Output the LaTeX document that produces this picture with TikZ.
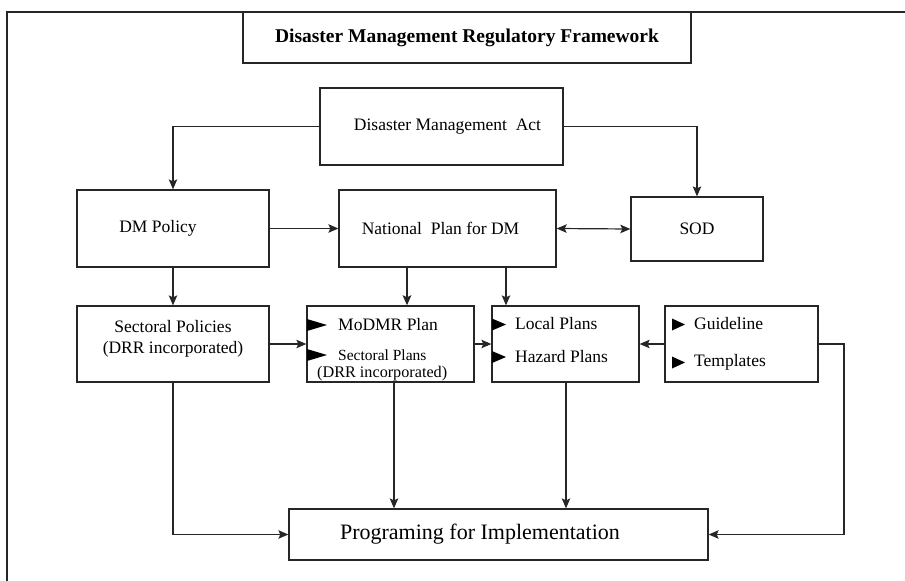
\documentclass[tikz,border=0pt]{standalone}
\usepackage{fontspec}
\setmainfont{Liberation Serif}
\usetikzlibrary{arrows.meta}

\tikzset{
  box/.style={draw=black!85, line width=1.3pt, rectangle, inner sep=0pt,
              font=\fontsize{17.5}{21}\selectfont, align=center},
  tip/.tip={Stealth[length=10pt,width=8.5pt,inset=2pt]},
  link/.style={draw=black!85, line width=1.2pt, -tip},
  plain/.style={draw=black!85, line width=1.2pt},
  txt/.style={inner sep=0pt, anchor=west},
  bullet/.style={fill=black}
}

\begin{document}
\begin{tikzpicture}[x=1pt, y=-1pt]
  \useasboundingbox (0,0) rectangle (905,581);

  % outer frame
  \draw[plain, line width=1.4pt] (7,581) -- (7,12) -- (905,12);

  % title
  \node[box, minimum width=448pt, minimum height=51pt,
        font=\fontsize{19.5}{23}\selectfont\bfseries] (title) at (467,37.5)
        {Disaster Management Regulatory Framework};

  % top tier
  \node[box, minimum width=243pt, minimum height=77pt] (dma) at (441.5,126.5)
        {\hspace*{12pt}Disaster Management\ \ Act};
  \node[box, minimum width=192pt, minimum height=77pt] (pol) at (173,228.5)
        {\hspace*{-30pt}DM Policy};
  \node[box, minimum width=217pt, minimum height=77pt] (nat) at (447.5,228.5)
        {\hspace*{-14pt}National\ \ Plan for DM};
  \node[box, minimum width=132pt, minimum height=64pt] (sod) at (697,229) {SOD};

  % plan tier
  \node[box, minimum width=192pt, minimum height=76pt] (sec) at (173,344)
        {Sectoral Policies\\(DRR incorporated)\\[-6pt]\mbox{}};
  \node[box, minimum width=167pt, minimum height=76pt] (mod) at (390.5,344) {};
  \node[box, minimum width=147pt, minimum height=76pt] (loc) at (565.5,344) {};
  \node[box, minimum width=153pt, minimum height=76pt] (gui) at (741.5,344) {};

  % texts inside the plan boxes
  \node[txt, font=\fontsize{17.5}{21}\selectfont] (modt1) at (338,325) {MoDMR Plan};
  \node[txt, font=\fontsize{15.5}{18}\selectfont] (modt2) at (338,355) {Sectoral Plans};
  \node[txt, font=\fontsize{16.2}{18}\selectfont] (modt3) at (317,374) {(DRR incorporated)};
  \node[txt, font=\fontsize{17.5}{21}\selectfont] (loct1) at (515,324) {Local Plans};
  \node[txt, font=\fontsize{17.5}{21}\selectfont] (loct2) at (515,357) {Hazard Plans};
  \node[txt, font=\fontsize{17.5}{21}\selectfont] (guit1) at (694,324) {Guideline};
  \node[txt, font=\fontsize{17.5}{21}\selectfont] (guit2) at (694,362) {Templates};

  % bullet triangles
  \fill[bullet] (307,319) -- (327,325) -- (307,331) -- cycle;
  \fill[bullet] (307,349) -- (327,355) -- (307,361) -- cycle;
  \fill[bullet] (492,318.5) -- (506,324.5) -- (492,330.5) -- cycle;
  \fill[bullet] (492,351) -- (506,357) -- (492,363) -- cycle;
  \fill[bullet] (672,318.5) -- (685,324.5) -- (672,330.5) -- cycle;
  \fill[bullet] (672,356.5) -- (685,362.5) -- (672,368.5) -- cycle;

  % bottom
  \node[box, minimum width=419pt, minimum height=51pt,
        font=\fontsize{22}{26}\selectfont] (prog) at (498.5,534.5)
        {\hspace*{-37pt}Programing for Implementation};

  % helper positions for off-centre connectors
  \coordinate (xa) at (407,0);
  \coordinate (xb) at (506,0);
  \coordinate (xc) at (394,0);
  \coordinate (xd) at (566,0);
  \coordinate (corner) at (844,344);

  % connectors
  \draw[link] (dma.west) -| (pol.north);
  \draw[link] (dma.east) -| (sod.north);
  \draw[link] (pol.east) -- (nat.west);
  \draw[link, tip-tip] (nat.east) -- (sod.west);
  \draw[link] (pol.south) -- (sec.north);
  \draw[link, line width=1.8pt] (nat.south -| xa) -- (mod.north -| xa);
  \draw[link] (nat.south -| xb) -- (loc.north -| xb);
  \draw[link] (sec.east) -- (mod.west);
  \draw[link] (mod.east) -- (loc.west);
  \draw[link] (gui.west) -- (loc.east);
  \draw[link] (gui.east) -- (corner) |- (prog.east);
  \draw[link] (sec.south) |- (prog.west);
  \draw[link] (mod.south -| xc) -- (prog.north -| xc);
  \draw[link] (loc.south -| xd) -- (prog.north -| xd);
\end{tikzpicture}
\end{document}
